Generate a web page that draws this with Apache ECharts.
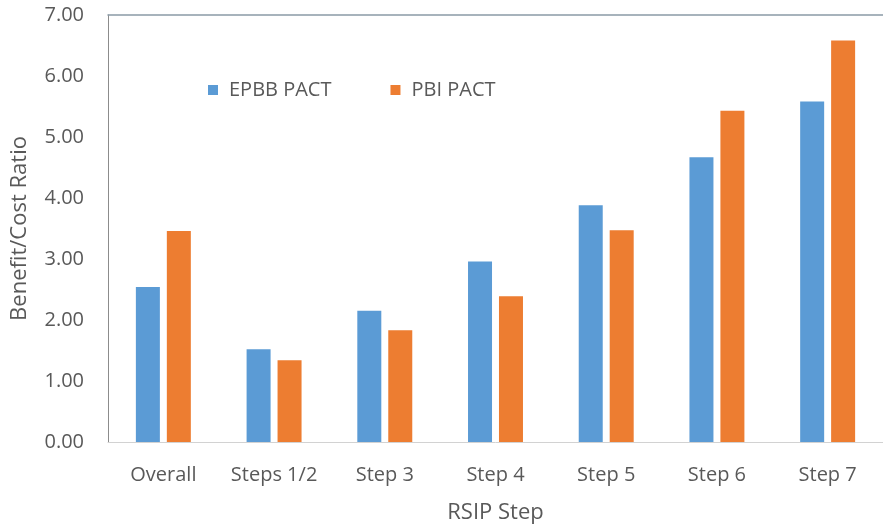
<!DOCTYPE html>
<html>
<head>
<meta charset="utf-8">
<script src="https://cdn.jsdelivr.net/npm/echarts@6/dist/echarts.min.js"></script>
<style>
  html, body { margin: 0; padding: 0; background: #ffffff; }
  #chart { width: 883px; height: 529px; }
</style>
</head>
<body>
<div id="chart"></div>
<script>
// Benefit/cost ratios for each RSIP step
const categories = ['Overall', 'Steps 1/2', 'Step 3', 'Step 4', 'Step 5', 'Step 6', 'Step 7'];
const epbbPact = [2.54, 1.52, 2.15, 2.96, 3.88, 4.67, 5.58];
const pbiPact = [3.46, 1.34, 1.83, 2.39, 3.47, 5.43, 6.58];
const seriesNames = ['EPBB PACT', 'PBI PACT'];
const yTicks = { min: 0, max: 7, interval: 1 };

const FONT = 'Open Sans';
const TEXT = '#595959';

const chart = echarts.init(document.getElementById('chart'), null, { renderer: 'canvas' });

chart.setOption({
  animation: false,
  backgroundColor: '#ffffff',
  textStyle: { fontFamily: FONT },
  grid: { left: 108, top: 15, bottom: 87, right: -11, containLabel: false },
  legend: {
    data: seriesNames,
    left: 203,
    top: 75,
    orient: 'horizontal',
    icon: 'rect',
    itemWidth: 10,
    itemHeight: 10,
    itemGap: 59,
    textStyle: { color: TEXT, fontSize: 20, fontFamily: FONT, padding: [0, 0, 0, 6] }
  },
  xAxis: [
    {
      type: 'category',
      data: categories,
      position: 'bottom',
      axisLine: { show: true, lineStyle: { color: '#d2d2d2', width: 1 } },
      axisTick: { show: false },
      axisLabel: { color: TEXT, fontSize: 20, fontFamily: FONT, margin: 23, interval: 0 },
      name: 'RSIP Step',
      nameLocation: 'middle',
      nameGap: 60,
      nameTextStyle: { color: TEXT, fontSize: 22, fontFamily: FONT }
    },
    {
      // top border of the plot area
      type: 'category',
      data: categories,
      position: 'top',
      axisLine: { show: true, lineStyle: { color: '#8a9aa6', width: 1.5 } },
      axisTick: { show: false },
      axisLabel: { show: false }
    }
  ],
  yAxis: {
    type: 'value',
    min: yTicks.min,
    max: yTicks.max,
    interval: yTicks.interval,
    axisLine: { show: true, lineStyle: { color: '#8c8c8c', width: 1 } },
    axisTick: { show: false },
    splitLine: { show: false },
    axisLabel: {
      color: TEXT, fontSize: 20, fontFamily: FONT, margin: 24,
      formatter: v => v.toFixed(2)
    },
    name: 'Benefit/Cost Ratio',
    nameLocation: 'middle',
    nameGap: 77,
    nameTextStyle: { color: TEXT, fontSize: 22, fontFamily: FONT }
  },
  series: [
    {
      name: seriesNames[0],
      type: 'bar',
      data: epbbPact,
      barWidth: 24,
      barGap: '29%',
      itemStyle: { color: '#5b9bd5' }
    },
    {
      name: seriesNames[1],
      type: 'bar',
      data: pbiPact,
      barWidth: 24,
      barGap: '29%',
      itemStyle: { color: '#ed7d31' }
    }
  ]
});
</script>
</body>
</html>
